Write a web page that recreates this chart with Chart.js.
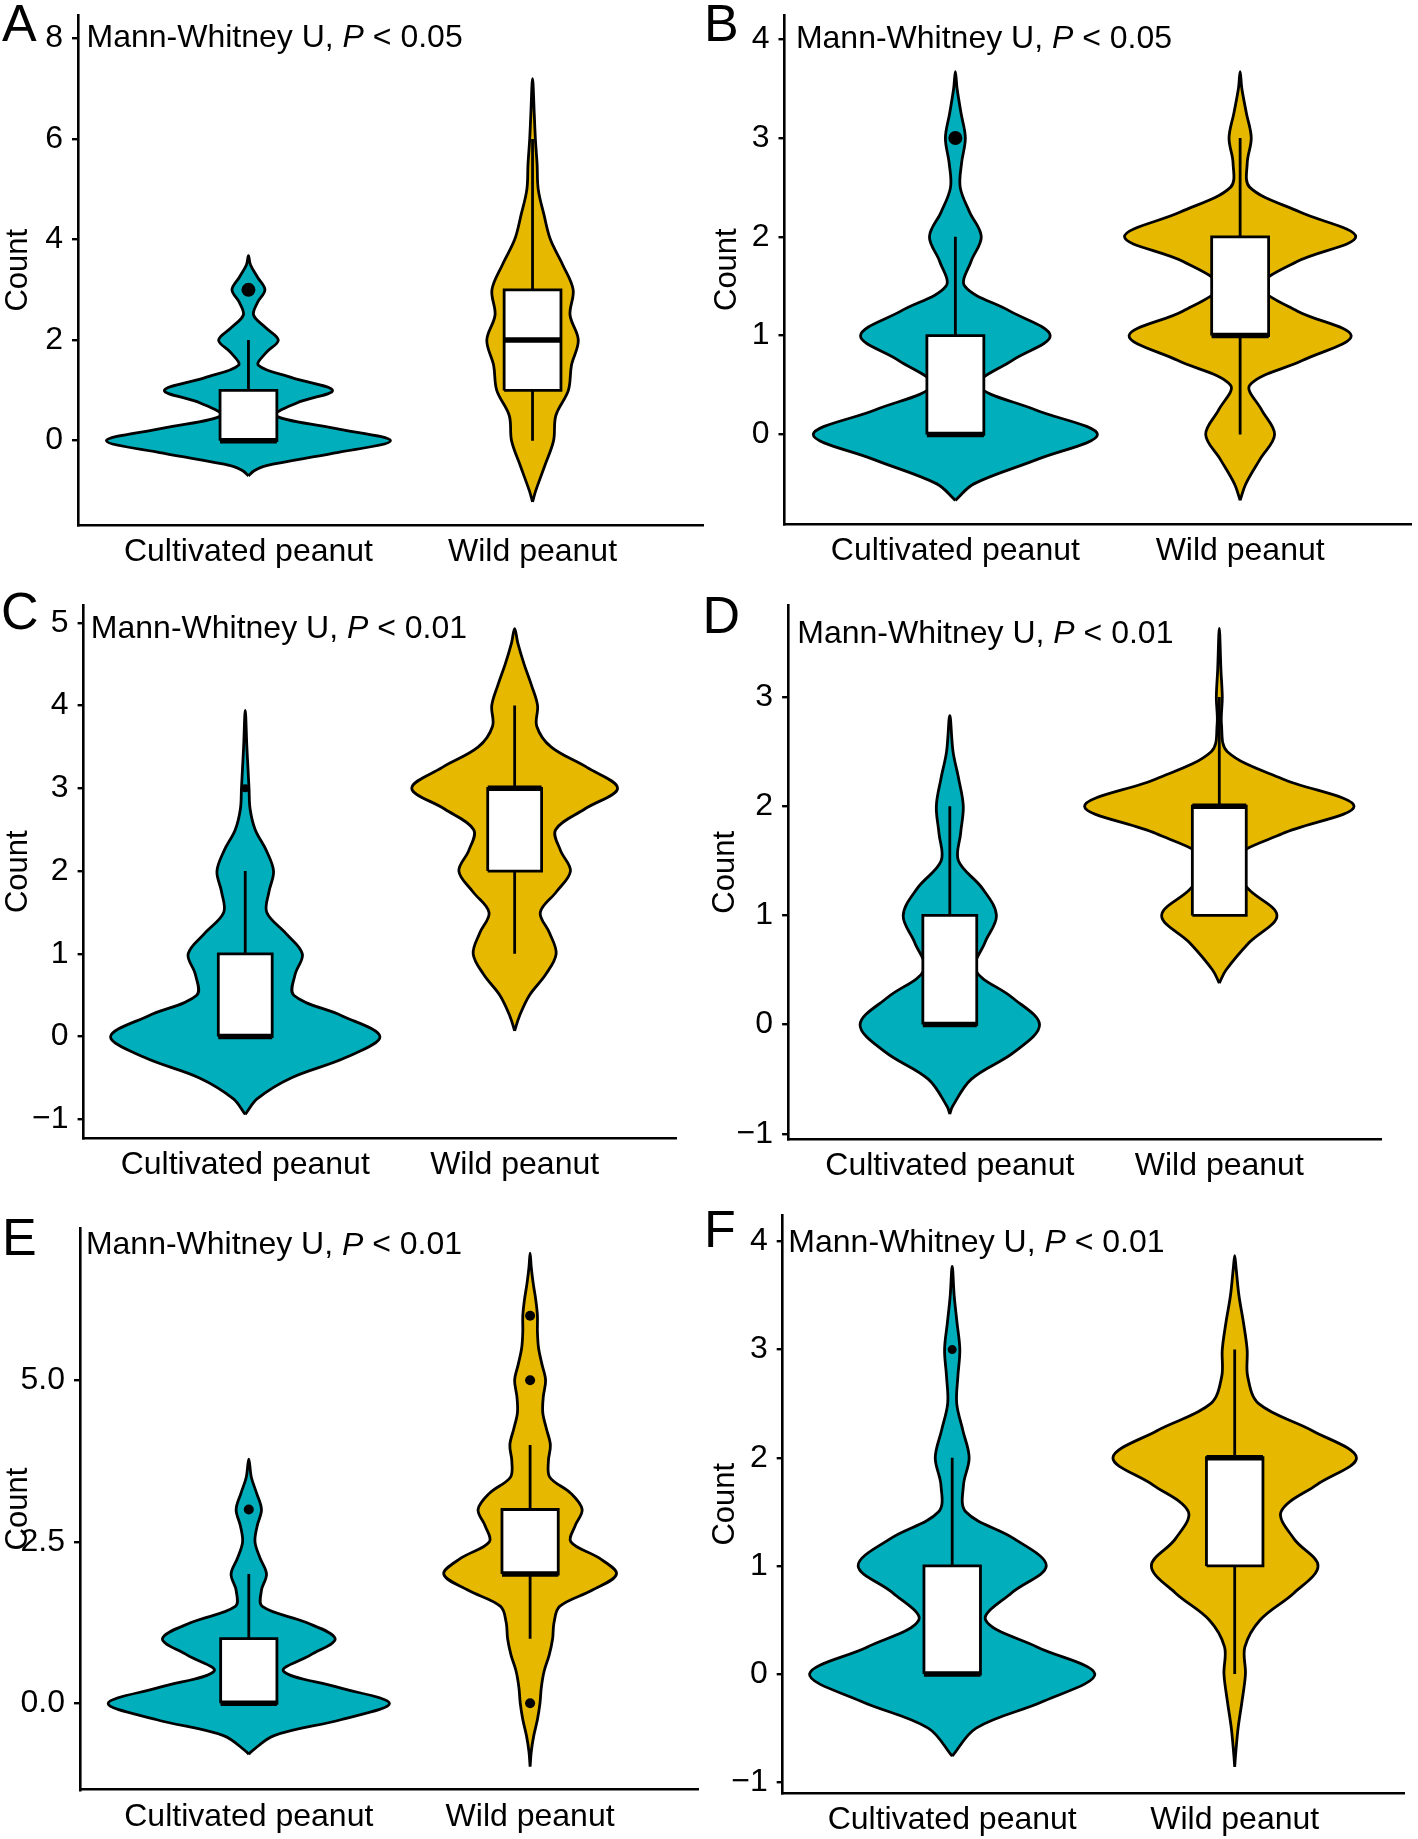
<!DOCTYPE html>
<html>
<head>
<meta charset="utf-8">
<script src="https://cdn.jsdelivr.net/npm/chart.js@4.4.0/dist/chart.umd.min.js"></script>
<style>
  body { margin: 0; background: #fff; width: 1418px; height: 1839px; position: relative; overflow: hidden; }
  canvas { position: absolute; }
</style>
</head>
<body>
<canvas id="pA" width="710" height="590" style="left:0;top:0"></canvas>
<canvas id="pB" width="718" height="590" style="left:700px;top:0"></canvas>
<canvas id="pC" width="710" height="600" style="left:0;top:590px"></canvas>
<canvas id="pD" width="718" height="600" style="left:700px;top:590px"></canvas>
<canvas id="pE" width="710" height="649" style="left:0;top:1190px"></canvas>
<canvas id="pF" width="718" height="649" style="left:700px;top:1190px"></canvas>
<script>
const groups = ['Cultivated peanut', 'Wild peanut'];

// violin outlines: y values and half widths (in category units)
// box stats per group: q1, median, q3, whisker low, whisker high

// Panel A
const A_cultY = [-0.70, -0.6, -0.5, -0.25, 0, 0.25, 0.5, 0.75, 1, 1.25, 1.5, 1.75, 2, 2.25, 2.5, 2.75, 3, 3.25, 3.5, 3.68];
const A_cultW = [0, 0.02, 0.06, 0.3, 0.5, 0.3, 0.095, 0.17, 0.296, 0.155, 0.035, 0.062, 0.105, 0.06, 0.018, 0.032, 0.058, 0.032, 0.007, 0];
const A_wildY = [-1.22, -1.0, -0.5, 0, 0.5, 1, 1.5, 2, 2.5, 3, 3.5, 4, 4.5, 5, 5.5, 6, 6.5, 7.2];
const A_wildW = [0, 0.011, 0.043, 0.074, 0.082, 0.126, 0.137, 0.161, 0.132, 0.143, 0.106, 0.063, 0.04, 0.02, 0.016, 0.01, 0.006, 0];
const A_box = [[0, 0, 1, 0, 2], [1, 2, 3, 0, 6]];
const A_out = [[3], []];
const A_ticks = [0, 2, 4, 6, 8];
const A_tickLabels = ['0', '2', '4', '6', '8'];
const A_range = [-1.68, 8.46];
const A_p = '0.05';

// Panel B
const B_cultY = [-0.667, -0.5, -0.25, 0, 0.25, 0.5, 0.75, 1, 1.25, 1.5, 1.75, 2, 2.25, 2.5, 2.75, 3, 3.25, 3.5, 3.67];
const B_cultW = [0, 0.065, 0.29, 0.499, 0.28, 0.08, 0.2, 0.333, 0.19, 0.033, 0.055, 0.091, 0.05, 0.017, 0.022, 0.035, 0.02, 0.006, 0];
const B_wildY = [-0.667, -0.5, -0.25, 0, 0.25, 0.5, 0.75, 1, 1.25, 1.5, 1.75, 2, 2.25, 2.5, 2.75, 3, 3.25, 3.5, 3.67];
const B_wildW = [0, 0.02, 0.07, 0.121, 0.075, 0.034, 0.22, 0.39, 0.2, 0.075, 0.2, 0.406, 0.21, 0.034, 0.025, 0.039, 0.022, 0.006, 0];
const B_box = [[0, 0, 1, 0, 2], [1, 1, 2, 0, 3]];
const B_out = [[3], []];
const B_ticks = [0, 1, 2, 3, 4];
const B_tickLabels = ['0', '1', '2', '3', '4'];
const B_range = [-0.905, 4.24];
const B_p = '0.05';

// Panel C
const C_cultY = [-0.94, -0.75, -0.5, -0.25, 0, 0.25, 0.5, 0.75, 1, 1.25, 1.5, 1.75, 2, 2.25, 2.5, 2.75, 3, 3.25, 3.5, 3.94];
const C_cultW = [0, 0.045, 0.17, 0.375, 0.5, 0.36, 0.18, 0.185, 0.212, 0.15, 0.08, 0.088, 0.105, 0.078, 0.037, 0.018, 0.014, 0.01, 0.006, 0];
const C_wildY = [0.07, 0.25, 0.5, 0.75, 1, 1.25, 1.5, 1.75, 2, 2.25, 2.5, 2.75, 3, 3.25, 3.5, 3.75, 4, 4.25, 4.5, 4.75, 4.93];
const C_wildW = [0, 0.018, 0.055, 0.115, 0.154, 0.13, 0.095, 0.155, 0.207, 0.17, 0.152, 0.26, 0.382, 0.27, 0.135, 0.082, 0.085, 0.062, 0.035, 0.012, 0];
const C_box = [[0, 0, 1, 0, 2], [2, 3, 3, 1, 4]];
const C_out = [[3], []];
const C_ticks = [-1, 0, 1, 2, 3, 4, 5];
const C_tickLabels = ['\u22121', '0', '1', '2', '3', '4', '5'];
const C_range = [-1.225, 5.21];
const C_p = '0.01';

// Panel D
const D_cultY = [-0.82, -0.75, -0.5, -0.25, 0, 0.25, 0.5, 0.75, 1, 1.25, 1.5, 1.75, 2, 2.25, 2.5, 2.83];
const D_cultW = [0, 0.01, 0.08, 0.24, 0.333, 0.23, 0.095, 0.13, 0.173, 0.12, 0.032, 0.04, 0.05, 0.033, 0.012, 0];
const D_wildY = [0.38, 0.5, 0.75, 1, 1.25, 1.5, 1.75, 2, 2.25, 2.5, 2.75, 3, 3.25, 3.63];
const D_wildW = [0, 0.025, 0.11, 0.214, 0.105, 0.045, 0.235, 0.5, 0.235, 0.03, 0.008, 0.011, 0.006, 0];
const D_box = [[0, 0, 1, 0, 2], [1, 2, 2, 1, 3]];
const D_out = [[], []];
const D_ticks = [-1, 0, 1, 2, 3];
const D_tickLabels = ['\u22121', '0', '1', '2', '3'];
const D_range = [-1.05, 3.84];
const D_p = '0.01';

// Panel E
const E_cultY = [-0.79, -0.75, -0.5, -0.25, 0, 0.25, 0.5, 0.75, 1, 1.25, 1.5, 1.75, 2, 2.25, 2.5, 2.75, 3, 3.25, 3.5, 3.78];
const E_cultW = [0, 0.008, 0.09, 0.33, 0.5, 0.315, 0.123, 0.22, 0.307, 0.205, 0.048, 0.045, 0.063, 0.04, 0.022, 0.03, 0.045, 0.028, 0.009, 0];
const E_wildY = [-0.98, -0.75, -0.5, -0.25, 0, 0.25, 0.5, 0.75, 1, 1.25, 1.5, 1.75, 2, 2.25, 2.5, 2.75, 3, 3.25, 3.5, 3.75, 4, 4.25, 4.5, 4.75, 5, 5.25, 5.5, 5.75, 6, 6.25, 6.5, 6.75, 6.97];
const E_wildW = [0, 0.004, 0.013, 0.026, 0.035, 0.04, 0.05, 0.068, 0.08, 0.085, 0.105, 0.22, 0.307, 0.245, 0.145, 0.16, 0.185, 0.145, 0.07, 0.065, 0.072, 0.058, 0.045, 0.047, 0.055, 0.042, 0.03, 0.026, 0.026, 0.02, 0.011, 0.004, 0];
const E_box = [[0, 0, 1, 0, 2], [2, 2, 3, 1, 4]];
const E_out = [[3], [0, 5, 6]];
const E_ticks = [0, 2.5, 5];
const E_tickLabels = ['0.0', '2.5', '5.0'];
const E_range = [-1.337, 7.35];
const E_p = '0.01';

// Panel F
const F_cultY = [-0.76, -0.5, -0.25, 0, 0.25, 0.5, 0.75, 1, 1.25, 1.5, 1.75, 2, 2.25, 2.5, 2.75, 3, 3.25, 3.5, 3.77];
const F_cultW = [0, 0.085, 0.325, 0.505, 0.3, 0.118, 0.21, 0.333, 0.22, 0.048, 0.04, 0.06, 0.038, 0.016, 0.02, 0.027, 0.017, 0.007, 0];
const F_wildY = [-0.86, -0.75, -0.5, -0.25, 0, 0.25, 0.5, 0.75, 1, 1.25, 1.5, 1.75, 2, 2.25, 2.5, 2.75, 3, 3.25, 3.5, 3.75, 3.87];
const F_wildW = [0, 0.003, 0.012, 0.026, 0.038, 0.036, 0.09, 0.21, 0.295, 0.21, 0.164, 0.29, 0.431, 0.275, 0.085, 0.046, 0.044, 0.031, 0.015, 0.005, 0];
const F_box = [[0, 0, 1, 0, 2], [1, 2, 2, 0, 3]];
const F_out = [[3], []];
const F_ticks = [-1, 0, 1, 2, 3, 4];
const F_tickLabels = ['\u22121', '0', '1', '2', '3', '4'];
const F_range = [-1.103, 4.243];
const F_p = '0.01';

const FONT = '"Liberation Sans", Arial, Helvetica, sans-serif';
const COLORS = ['#00AFBB', '#E7B800'];

// layout of each panel (pixels) and text placement
const panels = [
  {id: 'pA', letter: 'A', lx: 2, ly: 40.7, ann: [0.43, 8], pad: {top: 6.9, right: 1}, yw: 78, xh: 64.9, tp: 0, dot: 7,
   violins: [[A_cultY, A_cultW], [A_wildY, A_wildW]], box: A_box, out: A_out, ticks: A_ticks, labels: A_tickLabels, range: A_range, p: A_p},
  {id: 'pB', letter: 'B', lx: 4, ly: 40.7, ann: [0.44, 4], pad: {top: 6.4, right: 2}, yw: 84.5, xh: 66.1, tp: 9, dot: 7,
   violins: [[B_cultY, B_cultW], [B_wildY, B_wildW]], box: B_box, out: B_out, ticks: B_ticks, labels: B_tickLabels, range: B_range, p: B_p},
  {id: 'pC', letter: 'C', lx: 1, ly: 39, ann: [0.427, 4.92], pad: {top: 13.2, right: 33.7}, yw: 83.6, xh: 52, tp: 0, dot: 4,
   violins: [[C_cultY, C_cultW], [C_wildY, C_wildW]], box: C_box, out: C_out, ticks: C_ticks, labels: C_tickLabels, range: C_range, p: C_p},
  {id: 'pD', letter: 'D', lx: 2.5, ly: 43.3, ann: [0.434, 3.575], pad: {top: 12.3, right: 37}, yw: 88.1, xh: 50.8, tp: 7, dot: 4,
   violins: [[D_cultY, D_cultW], [D_wildY, D_wildW]], box: D_box, out: D_out, ticks: D_ticks, labels: D_tickLabels, range: D_range, p: D_p},
  {id: 'pE', letter: 'E', lx: 2, ly: 65, ann: [0.421, 7.085], pad: {top: 38.5, right: 11.1}, yw: 80, xh: 49.3, tp: 0, dot: 5,
   violins: [[E_cultY, E_cultW], [E_wildY, E_wildW]], box: E_box, out: E_out, ticks: E_ticks, labels: E_tickLabels, range: E_range, p: E_p},
  {id: 'pF', letter: 'F', lx: 4, ly: 56.7, ann: [0.42, 3.985], pad: {top: 25.2, right: 13.8}, yw: 82.7, xh: 45.7, tp: 7, dot: 4.5,
   violins: [[F_cultY, F_cultW], [F_wildY, F_wildW]], box: F_box, out: F_out, ticks: F_ticks, labels: F_tickLabels, range: F_range, p: F_p}
];

function violinPoints(c, ys, ws) {
  const left = ys.map((y, i) => ({x: c - ws[i], y}));
  const right = ys.map((y, i) => ({x: c + ws[i], y})).reverse();
  return left.concat(right.slice(1));
}

function buildDatasets(p) {
  const ds = [];
  p.violins.forEach(([ys, ws], g) => {
    ds.push({
      data: violinPoints(g + 1, ys, ws), fill: 'shape', backgroundColor: COLORS[g],
      borderColor: '#000', borderWidth: 2.8, pointRadius: 0, tension: 0.35,
      borderJoinStyle: 'round', order: 5
    });
  });
  p.box.forEach(([q1, med, q3, lo, hi], g) => {
    const c = g + 1, hw = 0.1;
    ds.push({
      data: [{x: c - hw, y: q1}, {x: c - hw, y: q3}, {x: c + hw, y: q3}, {x: c + hw, y: q1}, {x: c - hw, y: q1}],
      fill: 'shape', backgroundColor: '#fff', borderColor: '#000', borderWidth: 2.8,
      pointRadius: 0, tension: 0, order: 4
    });
    if (hi > q3) ds.push({data: [{x: c, y: q3}, {x: c, y: hi}], borderColor: '#000', borderWidth: 2.8, pointRadius: 0, fill: false, order: 3});
    if (lo < q1) ds.push({data: [{x: c, y: lo}, {x: c, y: q1}], borderColor: '#000', borderWidth: 2.8, pointRadius: 0, fill: false, order: 3});
    ds.push({data: [{x: c - hw, y: med}, {x: c + hw, y: med}], borderColor: '#000', borderWidth: 5.5, pointRadius: 0, fill: false, order: 2});
  });
  p.out.forEach((vals, g) => {
    if (!vals.length) return;
    ds.push({
      data: vals.map(v => ({x: g + 1, y: v})), showLine: false, pointRadius: p.dot,
      pointBackgroundColor: '#000', pointBorderWidth: 0, fill: false, order: 1
    });
  });
  return ds;
}

const panelText = {
  id: 'panelText',
  afterDraw(chart, args, o) {
    const {ctx, scales: {x, y}} = chart;
    ctx.save();
    ctx.fillStyle = '#000';
    ctx.textAlign = 'left';
    ctx.textBaseline = 'alphabetic';
    ctx.font = '52px ' + FONT;
    ctx.fillText(o.letter, o.lx, o.ly);
    const px = x.getPixelForValue(o.ann[0]);
    const py = y.getPixelForValue(o.ann[1]);
    ctx.textBaseline = 'middle';
    ctx.font = '32px ' + FONT;
    const s1 = 'Mann-Whitney U, ';
    ctx.fillText(s1, px, py);
    let w = ctx.measureText(s1).width;
    ctx.font = 'italic 32px ' + FONT;
    ctx.fillText('P', px + w, py);
    w += ctx.measureText('P').width;
    ctx.font = '32px ' + FONT;
    ctx.fillText(' < ' + o.p, px + w, py);
    ctx.restore();
  }
};

panels.forEach(p => {
  new Chart(document.getElementById(p.id), {
    type: 'line',
    data: {datasets: buildDatasets(p)},
    plugins: [panelText],
    options: {
      responsive: false,
      animation: false,
      events: [],
      layout: {padding: {top: p.pad.top, right: p.pad.right, left: 0, bottom: 0}},
      plugins: {
        legend: {display: false},
        tooltip: {enabled: false},
        panelText: {letter: p.letter, lx: p.lx, ly: p.ly, ann: p.ann, p: p.p}
      },
      scales: {
        x: {
          type: 'linear', min: 0.4, max: 2.6,
          afterBuildTicks: ax => { ax.ticks = [{value: 1}, {value: 2}]; },
          afterFit: ax => { ax.height = p.xh; },
          ticks: {
            callback: v => groups[Math.round(v) - 1],
            color: '#000', font: {size: 32, family: FONT}, padding: 0,
            maxRotation: 0, minRotation: 0, autoSkip: false
          },
          grid: {display: false},
          border: {display: true, color: '#000', width: 2.6}
        },
        y: {
          type: 'linear', min: p.range[0], max: p.range[1],
          afterBuildTicks: ax => { ax.ticks = p.ticks.map(v => ({value: v})); },
          afterFit: ax => { ax.width = p.yw; },
          ticks: {
            callback: (v, i) => p.labels[i],
            color: '#000', font: {size: 32, family: FONT, lineHeight: 0.4}, padding: 9
          },
          grid: {display: true, drawOnChartArea: false, drawTicks: true, tickLength: 6, color: '#000', lineWidth: 2.4},
          border: {display: true, color: '#000', width: 2.6},
          title: {display: true, text: 'Count', color: '#000', font: {size: 31, family: FONT}, padding: {top: p.tp, bottom: 0}}
        }
      }
    }
  });
});
</script>
</body>
</html>
